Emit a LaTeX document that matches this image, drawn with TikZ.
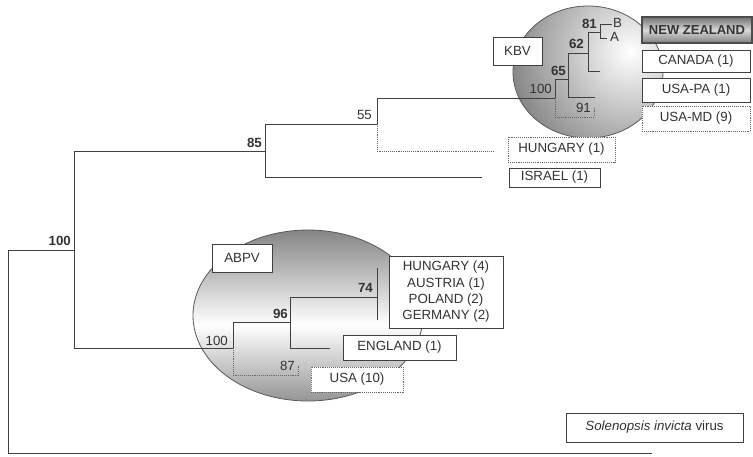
\documentclass[tikz,border=0pt]{standalone}
\usepackage{fontspec}
\setmainfont{Liberation Sans}
\usetikzlibrary{positioning}
\definecolor{treeline}{HTML}{404040}
\definecolor{labeltext}{HTML}{333333}
\tikzset{%
  % Specifications for style of nodes:
        base/.style = {rectangle, draw=treeline, fill=white, line width=0.9pt,
                       inner sep=0pt, text centered, text=labeltext,
                       font=\fontsize{13.3}{16.3}\selectfont},
      strain/.style = {base},
  weakstrain/.style = {base, densely dotted, draw=black!60},
       clade/.style = {base, line width=1pt},
      nzbox/.style = {base, draw=black!70, line width=1.2pt, top color=black!55,
                       bottom color=black!50, middle color=black!15,
                       text=black!80, font=\fontsize{13}{16}\selectfont\bfseries},
     support/.style = {inner sep=0pt, anchor=south east, text=labeltext,
                       font=\fontsize{13.3}{15}\selectfont},
      strong/.style = {support, font=\fontsize{13.3}{15}\selectfont\bfseries},
  % Specifications for style of branches:
      branch/.style = {draw=treeline, line width=1pt},
  weakbranch/.style = {draw=black!60, line width=0.9pt, densely dotted}
}

\begin{document}
\begin{tikzpicture}[x=1pt, y=-1pt, align=center]
  \useasboundingbox (0,0) rectangle (753,456);

  % shaded clades
  \begin{scope}
    \clip (588,72) ellipse [x radius=75pt, y radius=66pt];
    \shade[inner color=white, outer color=black!47] (630,52) circle (120pt);
  \end{scope}
  \draw[draw=black!65, line width=0.8pt] (588,72) ellipse [x radius=75pt, y radius=66pt];
  \begin{scope}
    \clip (308,315.5) ellipse [x radius=115pt, y radius=85.5pt];
    \shade[top color=black!48, bottom color=black!52, middle color=white] (190,230) rectangle (425,420);
  \end{scope}
  \draw[draw=black!65, line width=0.8pt] (308,315.5) ellipse [x radius=115pt, y radius=85.5pt];

  \coordinate (root) at (8,350);
  \coordinate (n100) at (74,250);
  \coordinate (n85) at (265,151);
  \coordinate (n55) at (377,124);
  \coordinate (kbv100) at (555,98);
  \coordinate (n65) at (568,79);
  \coordinate (n62) at (588,53);
  \coordinate (n81) at (600,32);
  \coordinate (leafb) at (612,24);
  \coordinate (leafa) at (607,38);
  \coordinate (canada) at (600,71);
  \coordinate (usapa) at (595,97);
  \coordinate (usamd) at (594,117);
  \coordinate (usamdtick) at (594,108);
  \coordinate (hungary1) at (493,151);
  \coordinate (israel) at (482,177);
  \coordinate (abpv100) at (233,348);
  \coordinate (n96) at (290,322);
  \coordinate (n74top) at (377,268);
  \coordinate (n74) at (377,297);
  \coordinate (n74bot) at (377,320);
  \coordinate (england) at (330,348);
  \coordinate (usa10) at (298,375);
  \coordinate (usa10tick) at (298,366);
  \coordinate (solenopsis) at (652,453);

  \draw[branch] (root) |- (n100);
  \draw[branch] (root) |- (solenopsis);
  \draw[branch] (n100) |- (n85);
  \draw[branch] (n100) |- (abpv100);
  \draw[branch] (n85) |- (n55);
  \draw[branch] (n85) |- (israel);
  \draw[branch] (n55) |- (kbv100);
  \draw[weakbranch] (n55) |- (hungary1);
  \draw[branch] (kbv100) |- (n65);
  \draw[weakbranch] (kbv100) |- (usamd) -- (usamdtick);
  \draw[branch] (n65) |- (n62);
  \draw[branch] (n65) |- (usapa);
  \draw[branch] (n62) |- (n81);
  \draw[branch] (n62) |- (canada);
  \draw[branch] (n81) |- (leafb);
  \draw[branch] (n81) |- (leafa);
  \draw[branch] (abpv100) |- (n96);
  \draw[weakbranch] (abpv100) |- (usa10) -- (usa10tick);
  \draw[branch] (n96) |- (n74);
  \draw[branch] (n96) |- (england);
  \draw[branch] (n74top) -- (n74bot);

  % bootstrap values
  \node[strong] (bs100) at (71,246) {100};
  \node[strong] (bs85) at (262,148) {85};
  \node[support] (bs55) at (372,120) {55};
  \node[support] (bskbv) at (552,94) {100};
  \node[strong] (bs65) at (566,76) {65};
  \node[strong] (bs62) at (584,49) {62};
  \node[strong] (bs81) at (597,29) {81};
  \node[support, anchor=west] (labelb) at (613,23) {B};
  \node[support, anchor=west] (labela) at (610,37) {A};
  \node[support] (bs91) at (591,113) {91};
  \node[support] (bsabpv) at (228,346) {100};
  \node[strong] (bs96) at (288,319) {96};
  \node[strong] (bs74) at (373,293) {74};
  \node[support] (bs87) at (295,371) {87};

  % strain boxes
  \node[nzbox, minimum width=110pt, minimum height=26pt] (newzealand) at (697,30) {NEW ZEALAND};
  \node[strain, minimum width=108pt, minimum height=22pt] (canadabox) at (696,61) {CANADA (1)};
  \node[strain, minimum width=108pt, minimum height=24pt] (usapabox) at (696,90) {USA-PA (1)};
  \node[weakstrain, minimum width=108pt, minimum height=25pt] (usamdbox) at (696,118.5) {USA-MD (9)};
  \node[clade, minimum width=49pt, minimum height=28pt] (kbv) at (517.5,51) {KBV};
  \node[weakstrain, minimum width=107pt, minimum height=25pt] (hungary1box) at (561.5,149.5) {HUNGARY (1)};
  \node[strain, minimum width=91pt, minimum height=19pt] (israelbox) at (554.5,177.5) {ISRAEL (1)};
  \node[clade, minimum width=60pt, minimum height=28pt] (abpv) at (242,258) {ABPV};
  \node[strain, minimum width=114pt, minimum height=72pt] (europebox) at (446,292)
       {HUNGARY (4)\\AUSTRIA (1)\\POLAND (2)\\GERMANY (2)};
  \node[strain, minimum width=113pt, minimum height=25pt] (englandbox) at (399.5,347.5) {ENGLAND (1)};
  \node[weakstrain, minimum width=92pt, minimum height=25pt] (usa10box) at (357,379.5) {USA (10)};
  \node[clade, minimum width=177pt, minimum height=29pt] (outgroup) at (654.5,427.5) {\textit{Solenopsis invicta} virus};
\end{tikzpicture}
\end{document}
